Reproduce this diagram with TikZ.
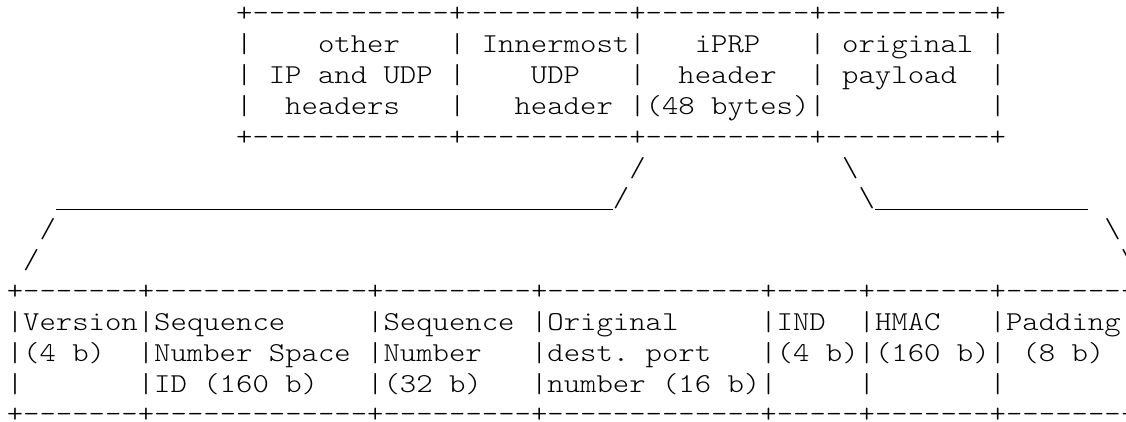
\documentclass[tikz,border=0pt]{standalone}
\usepackage{fontspec}
\usepackage{tikz}
\usetikzlibrary{positioning}
\newfontfamily\asciifont{lmmonolt10-regular.otf}[FakeStretch=1.143]
\newcommand{\fixspace}{\setbox0\hbox{x}%
  \fontdimen2\font=\wd0 \fontdimen3\font=0pt \fontdimen4\font=0pt
  \fontdimen7\font=0pt \frenchspacing}

\begin{document}
\begin{tikzpicture}[x=16.38pt, y=-30.85pt,
    ascii/.style={anchor=base west, inner sep=0pt, outer sep=0pt,
        font=\fontsize{27.3}{30.85}\asciifont\fixspace},
    uline/.style={line width=1.1pt}]
    \useasboundingbox (-6.8pt,21.8pt) rectangle (1119.2pt,-399.2pt);
    \clip (-6.8pt,21.8pt) rectangle (1119.2pt,-399.2pt);

    % Packet
    \node[ascii] (pkt top) at (14,0) {+------------+----------+----------+----------+};
    \node[ascii] (pkt line1) at (14,1) {|~~~~other~~~|~Innermost|~~~iPRP~~~|~original~|};
    \node[ascii] (pkt line2) at (14,2) {|~IP~and~UDP~|~~~~UDP~~~|~~header~~|~payload~~|};
    \node[ascii] (pkt line3) at (14,3) {|~~headers~~~|~~~header~|(48~bytes)|~~~~~~~~~~|};
    \node[ascii] (pkt bottom) at (14,4) {+------------+----------+----------+----------+};

    % Zoom onto the iPRP header
    \node[ascii] (left5) at (38,5) {/};
    \node[ascii] (right5) at (51,5) {\textbackslash};
    \node[ascii] (left6) at (37,6) {/};
    \node[ascii] (right6) at (52,6) {\textbackslash};
    \node[ascii] (left7) at (2,7) {/};
    \node[ascii] (right7) at (67,7) {\textbackslash};
    \node[ascii] (left8) at (1,8) {/};
    \node[ascii] (right8) at (68,8) {\textbackslash};

    \coordinate (ul west) at (3,6.08);
    \coordinate (ul east) at (37,6.08);
    \coordinate (ur west) at (53,6.08);
    \coordinate (ur east) at (66,6.08);
    \draw[uline] (ul west) -- (ul east);
    \draw[uline] (ur west) -- (ur east);

    % iPRP header fields
    \node[ascii] (fld top) at (0,9) {+-------+-------------+---------+-------------+-----+-------+--------};
    \node[ascii] (fld line1) at (0,10) {|Version|Sequence~~~~~|Sequence~|Original~~~~~|IND~~|HMAC~~~|Padding};
    \node[ascii] (fld line2) at (0,11) {|(4~b)~~|Number~Space~|Number~~~|dest.~port~~~|(4~b)|(160~b)|~(8~b)};
    \node[ascii] (fld line3) at (0,12) {|~~~~~~~|ID~(160~b)~~~|(32~b)~~~|number~(16~b)|~~~~~|~~~~~~~|};
    \node[ascii] (fld bottom) at (0,13) {+-------+-------------+---------+-------------+-----+-------+--------};
\end{tikzpicture}
\end{document}
